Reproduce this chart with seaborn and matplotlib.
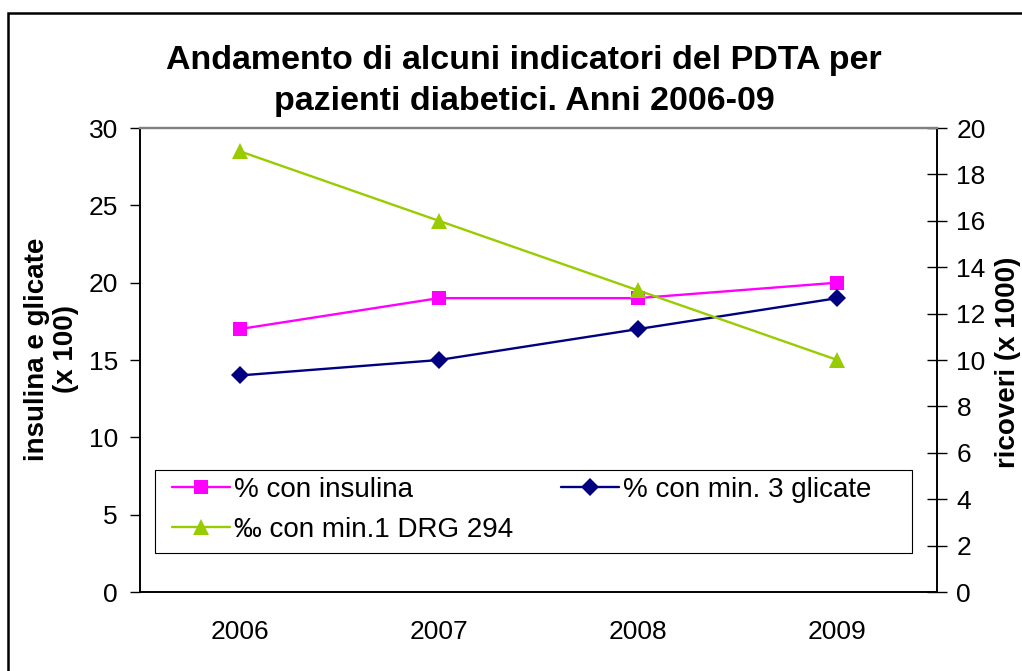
import matplotlib
matplotlib.use("Agg")
import matplotlib.pyplot as plt
import seaborn as sns
import pandas as pd
from matplotlib.patches import Rectangle

# ---- data ----
years = ["2006", "2007", "2008", "2009"]
insulina = [17, 19, 19, 20]          # left axis
glicate = [14, 15, 17, 19]           # left axis
ricoveri = [19, 16, 13, 10]          # right axis

df = pd.DataFrame({"anno": years, "insulina": insulina,
                   "glicate": glicate, "ricoveri": ricoveri})

sns.set_style("white")
plt.rcParams['font.family'] = ['Liberation Sans', 'DejaVu Sans']
plt.rcParams['text.color'] = 'black'
plt.rcParams['axes.labelcolor'] = 'black'
plt.rcParams['xtick.color'] = 'black'
plt.rcParams['ytick.color'] = 'black'

fig = plt.figure(figsize=(10.22, 6.71), dpi=100)
ax = fig.add_axes([140 / 1022, 1 - 592 / 671, 797 / 1022, 464 / 671])
ax2 = ax.twinx()

# outer chart frame (extends past the right/bottom edge)
fig.patches.append(Rectangle((8 / 1022, -0.1), 1.2, (671 - 13) / 671 + 0.1,
                             transform=fig.transFigure, fill=False,
                             edgecolor='black', linewidth=1.8))

sns.lineplot(data=df, x="anno", y="insulina", ax=ax, color='#FF00FF',
             marker='s', markersize=10, markeredgewidth=0, linewidth=1.7,
             label='% con insulina', legend=False)
sns.lineplot(data=df, x="anno", y="glicate", ax=ax, color='#000080',
             marker='D', markersize=9, markeredgewidth=0, linewidth=1.7,
             label='% con min. 3 glicate', legend=False)
sns.lineplot(data=df, x="anno", y="ricoveri", ax=ax2, color='#99CC00',
             marker='^', markersize=12, markeredgewidth=0, linewidth=1.7,
             label='‰ con min.1 DRG 294', legend=False)

# axes limits and ticks
ax.set_xlim(-0.5, 3.5)
ax.set_ylim(0, 30)
ax2.set_ylim(0, 20)
ax.set_yticks(range(0, 31, 5))
ax2.set_yticks(range(0, 21, 2))
ax.set_xticks(range(len(years)))
ax.set_xticklabels(years)
ax.set_xticks([i - 0.5 for i in range(len(years) + 1)], minor=True)

ax.tick_params(axis='x', which='major', length=0, labelsize=19, pad=20)
ax.tick_params(axis='x', which='minor', direction='inout', length=14, width=1, color='black')
ax.tick_params(axis='y', direction='out', length=7, width=1, color='black', labelsize=19, pad=9, left=True)
ax2.tick_params(axis='y', direction='inout', length=14, width=1, color='black', labelsize=19, pad=7, right=True)

for a in (ax, ax2):
    for s in ('left', 'bottom', 'right'):
        a.spines[s].set_color('black')
        a.spines[s].set_linewidth(1.2)
    a.spines['top'].set_color('#808080')
    a.spines['top'].set_linewidth(1.6)

ax.set_xlabel('')
ax.set_ylabel('insulina e glicate\n(x 100)', fontsize=20, fontweight='bold', linespacing=1.15)
ax.yaxis.set_label_coords(-0.077, 0.524)
ax2.set_ylabel('ricoveri (x 1000)', fontsize=20, fontweight='bold')
ax2.yaxis.set_label_coords(1.0728, 0.496)

fig.text(524 / 1022, 1 - 81 / 671,
         'Andamento di alcuni indicatori del PDTA per\npazienti diabetici. Anni 2006-09',
         ha='center', va='center', fontsize=24.5, fontweight='bold', linespacing=1.42)

# legend box
ax2.add_patch(Rectangle(((155 - 140) / 797, (592 - 553) / 464), (912 - 155) / 797, (553 - 470) / 464,
                        transform=ax2.transAxes, fill=True, facecolor='white',
                        edgecolor='black', linewidth=0.8, zorder=4))

# legend (row-wise order)
h1, l1 = ax.get_legend_handles_labels()
h2, l2 = ax2.get_legend_handles_labels()
handles = [h1[0], h2[0], h1[1]]
labels = [l1[0], l2[0], l1[1]]
leg = ax2.legend(handles, labels, ncol=2, loc='center left',
                 bbox_to_anchor=((172 - 140) / 797, (592 - 510) / 464),
                 fontsize=20, frameon=False, handlelength=2.1, handletextpad=0.15,
                 borderpad=0, borderaxespad=0, columnspacing=1.7, labelspacing=0.5)
leg.set_zorder(5)

fig.savefig('out.png', dpi=100)
